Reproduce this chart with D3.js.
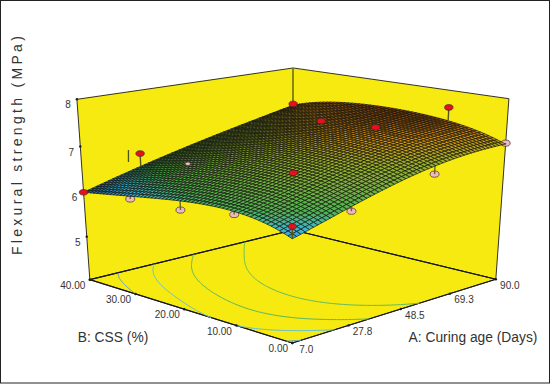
<!DOCTYPE html>
<html>
<head>
<meta charset="utf-8">
<style>
  html, body { margin: 0; padding: 0; background: #fff; }
  svg { display: block; }
  text { font-family: "Liberation Sans", Arial, sans-serif; fill: #333; }
</style>
<script src="https://cdn.jsdelivr.net/npm/d3@7"></script>
</head>
<body>
<svg id="chart" width="551" height="384"></svg>
<script>
// tick labels
const ageTicks = [7.0, 27.8, 48.5, 69.3, 90.0];
const cssTicks = [0, 10, 20, 30, 40];
const strengthTicks = [4, 5, 6, 7, 8];

// surface heights, rows = age, columns = css
const surfaceAge = [7.0, 27.8, 48.5, 69.3, 90.0];
const surfaceCss = [0, 10, 20, 30, 40];
const surfaceHeight = [
  [6.12, 6.38, 6.33, 6.17, 6.00],
  [6.47, 6.72, 6.71, 6.57, 6.33],
  [6.78, 7.02, 7.01, 6.86, 6.62],
  [6.98, 7.24, 7.24, 7.10, 6.88],
  [7.04, 7.34, 7.42, 7.37, 7.12]
];

// design points [age, css, strength]
const pointsAbove = [
  [7, 40, 6.0], [7, 0, 6.36], [28, 40, 6.62], [28, 10, 6.9],
  [67, 23.4, 7.29], [70, 14.6, 7.3], [90, 10, 7.63], [90, 40, 7.15]
];
const pointsBelow = [
  [7, 30, 6.11], [7, 20, 6.14], [7, 10, 6.32],
  [28, 0, 6.38], [60, 0, 6.74], [90, 0, 7.06]
];
const pointsPartly = [[28, 30, 6.62]];

const contourLevels = [6.17, 6.38, 6.6, 6.87];
const contourColors = ["#5c9fd6", "#62c0d8", "#58b46a", "#62b860"];

const svg = d3.select("#chart");

const u = d3.scaleLinear().domain([7, 90]).range([0, 1]);
const v = d3.scaleLinear().domain([0, 40]).range([0, 1]);
const t = d3.scaleLinear().domain([4, 8]).range([0, 1]);

// box corners on the page, used to fit the perspective
const calib = [
  [0, 0, 0, 292, 343], [0, 1, 0, 90, 280], [1, 0, 0, 496, 279], [1, 1, 0, 293, 230],
  [0, 1, 1, 77, 99], [1, 0, 1, 509, 99], [1, 1, 1, 293, 68]
];

function solve(A, b) {
  const n = b.length;
  const m = A.map((r, i) => r.concat(b[i]));
  for (let i = 0; i < n; i++) {
    let p = i;
    for (let k = i + 1; k < n; k++) if (Math.abs(m[k][i]) > Math.abs(m[p][i])) p = k;
    [m[i], m[p]] = [m[p], m[i]];
    for (let k = 0; k < n; k++) {
      if (k === i) continue;
      const f = m[k][i] / m[i][i];
      for (let c = i; c <= n; c++) m[k][c] -= f * m[i][c];
    }
  }
  return m.map((r, i) => r[n] / r[i]);
}

const rows = [], rhs = [];
calib.forEach(([a, b, c, x, y]) => {
  rows.push([a, b, c, 1, 0, 0, 0, 0, -x * a, -x * b, -x * c]); rhs.push(x);
  rows.push([0, 0, 0, 0, a, b, c, 1, -y * a, -y * b, -y * c]); rhs.push(y);
});
const ata = d3.range(11).map(i => d3.range(11).map(j => d3.sum(rows, r => r[i] * r[j])));
const atb = d3.range(11).map(i => d3.sum(rows, (r, k) => r[i] * rhs[k]));
const P = solve(ata, atb);

function project(age, css, z) {
  const a = u(age), b = v(css), c = t(z);
  const w = P[8] * a + P[9] * b + P[10] * c + 1;
  return [(P[0] * a + P[1] * b + P[2] * c + P[3]) / w,
          (P[4] * a + P[5] * b + P[6] * c + P[7]) / w];
}

// smooth reading between the read heights
function lagrange(xs, ys, x) {
  return d3.sum(xs, (xi, i) => {
    let l = ys[i];
    xs.forEach((xj, j) => { if (j !== i) l *= (x - xj) / (xi - xj); });
    return l;
  });
}
function height(age, css) {
  const col = surfaceHeight.map(r => lagrange(surfaceCss, r, css));
  return lagrange(surfaceAge, col, age);
}

const line = d3.line();

// outer frame
svg.append("rect").attr("x", 0.5).attr("y", 0.5).attr("width", 549).attr("height", 382.5)
  .attr("fill", "#fff").attr("stroke", "#222").attr("stroke-width", 1);

// walls and floor
const box = [
  [[7, 40, 4], [7, 40, 8], [90, 40, 8], [90, 40, 4]],
  [[90, 0, 4], [90, 0, 8], [90, 40, 8], [90, 40, 4]],
  [[7, 0, 4], [7, 40, 4], [90, 40, 4], [90, 0, 4]]
];
svg.append("g").selectAll("path").data(box).join("path")
  .attr("d", d => line(d.map(p => project(...p))) + "Z")
  .attr("fill", "#f6ea10")
  .attr("stroke", "#1c1c1c")
  .attr("stroke-width", 0.9)
  .attr("stroke-linejoin", "round");

// heavier floor outline
const floorEdges = [
  [[7, 40, 4], [90, 40, 4]], [[90, 0, 4], [90, 40, 4]],
  [[7, 40, 4], [7, 0, 4]], [[7, 0, 4], [90, 0, 4]]
];
svg.append("g").selectAll("path").data(floorEdges).join("path")
  .attr("d", d => line(d.map(p => project(...p))))
  .attr("stroke", "#161616").attr("stroke-width", 1.2).attr("fill", "none");

// back corner line
svg.append("path")
  .attr("d", line([project(90, 40, 8), project(90, 40, 7.15)]))
  .attr("stroke", "#8f8a12").attr("stroke-width", 1.4);

// contours on the floor
const gridN = 120;
const gridValues = [];
for (let j = 0; j < gridN; j++) {
  for (let i = 0; i < gridN; i++) {
    gridValues.push(height(7 + 83 * i / (gridN - 1), 40 * j / (gridN - 1)));
  }
}
const contourGen = d3.contours().size([gridN, gridN]).thresholds(contourLevels);
const contourG = svg.append("g").attr("fill", "none").attr("stroke-width", 1);
contourGen(gridValues).forEach((c, k) => {
  c.coordinates.forEach(poly => poly.forEach(ring => {
    const inner = p => p[0] > 0 && p[0] < gridN && p[1] > 0 && p[1] < gridN;
    let d = "";
    for (let n = 1; n < ring.length; n++) {
      if (!inner(ring[n - 1]) || !inner(ring[n])) continue;
      const seg = [ring[n - 1], ring[n]].map(p =>
        project(7 + 83 * (p[0] - 0.5) / (gridN - 1), 40 * (p[1] - 0.5) / (gridN - 1), 4));
      d += line(seg);
    }
    contourG.append("path").attr("d", d).attr("stroke", contourColors[k]);
  }));
});

// axis ticks
const tickMarks = []
  .concat(ageTicks.map(a => project(a, 0, 4)))
  .concat(cssTicks.map(b => project(7, b, 4)))
  .concat(strengthTicks.map(z => project(7, 40, z)));
svg.append("g").selectAll("circle").data(tickMarks).join("circle")
  .attr("cx", d => d[0]).attr("cy", d => d[1]).attr("r", 1.2).attr("fill", "#1a1a1a");

// stems and points under the surface go first, the mesh hides them
function stems(data, color) {
  svg.append("g").selectAll("path").data(data).join("path")
    .attr("d", d => line([project(d[0], d[1], d[2]), project(d[0], d[1], height(d[0], d[1]))]))
    .attr("stroke", color).attr("stroke-width", 1.4);
}
function dots(data, fill, rx, ry) {
  svg.append("g").selectAll("ellipse").data(data).join("ellipse")
    .attr("cx", d => project(d[0], d[1], d[2])[0])
    .attr("cy", d => project(d[0], d[1], d[2])[1])
    .attr("rx", rx).attr("ry", ry)
    .attr("fill", fill).attr("stroke", "#3a2a2a").attr("stroke-width", 0.7);
}
dots(pointsBelow, "#efb9c4", 4.5, 3.1);
stems(pointsBelow, "#6a6a1c");

// mesh, back to front
const meshN = 56;
const meshColor = d3.scaleLinear()
  .domain([6.0, 6.2, 6.42, 6.95, 7.2, 7.42])
  .range(["#1c5fa8", "#3ab8e0", "#4fb254", "#9cb02a", "#dc9410", "#a04a08"]);
const cells = [];
for (let i = 0; i < meshN; i++) {
  for (let j = 0; j < meshN; j++) cells.push([i, j]);
}
cells.sort((a, b) => (b[0] + b[1]) - (a[0] + a[1]));
const ageAt = i => 7 + 83 * i / meshN;
const cssAt = j => 40 * j / meshN;
svg.append("g").selectAll("path").data(cells).join("path")
  .attr("d", ([i, j]) => line([[i, j], [i + 1, j], [i + 1, j + 1], [i, j + 1]]
    .map(([a, b]) => project(ageAt(a), cssAt(b), height(ageAt(a), cssAt(b))))) + "Z")
  .attr("fill", ([i, j]) => meshColor(height(ageAt(i + 0.5), cssAt(j + 0.5))))
  .attr("stroke", "#101010")
  .attr("stroke-width", 0.65);

// points above the surface
stems(pointsAbove, "#55551a");
dots(pointsPartly, "#efb9c4", 2.8, 1.8);
dots(pointsAbove, "#e8101c", 4.2, 2.8);

// stray mark beside the point at the back
svg.append("text").attr("x", 128.4).attr("y", 158.5).attr("text-anchor", "middle")
  .attr("font-size", 12).style("fill", "#222").text("|");

// tick labels
const fmt1 = d3.format(".1f"), fmt2 = d3.format(".2f");
const labels = [];
ageTicks.forEach(a => {
  const p = project(a, 0, 4);
  labels.push([fmt1(a), p[0] + 14, p[1] + 6]);
});
cssTicks.forEach(b => {
  const p = project(7, b, 4);
  labels.push([fmt2(b), p[0] - (b === 0 ? 14 : 17), p[1] + 5.5]);
});
strengthTicks.slice(1).forEach(z => {
  const p = project(7, 40, z);
  labels.push([String(z), p[0] - 9, p[1] + 5.5]);
});
svg.append("g").selectAll("text").data(labels).join("text")
  .attr("x", d => d[1]).attr("y", d => d[2])
  .attr("text-anchor", "middle").attr("dominant-baseline", "central")
  .attr("font-size", 10).text(d => d[0]);

// axis titles
svg.append("text").attr("x", 113).attr("y", 337).attr("text-anchor", "middle")
  .attr("dominant-baseline", "central").attr("font-size", 13.8).text("B: CSS (%)");
svg.append("text").attr("x", 473).attr("y", 337).attr("text-anchor", "middle")
  .attr("dominant-baseline", "central").attr("font-size", 13.8).text("A: Curing age (Days)");
svg.append("text").attr("transform", "translate(17,144) rotate(-90)")
  .attr("text-anchor", "middle").attr("dominant-baseline", "central")
  .attr("font-size", 14).attr("letter-spacing", 3.3).text("Flexural strength (MPa)");
</script>
</body>
</html>
